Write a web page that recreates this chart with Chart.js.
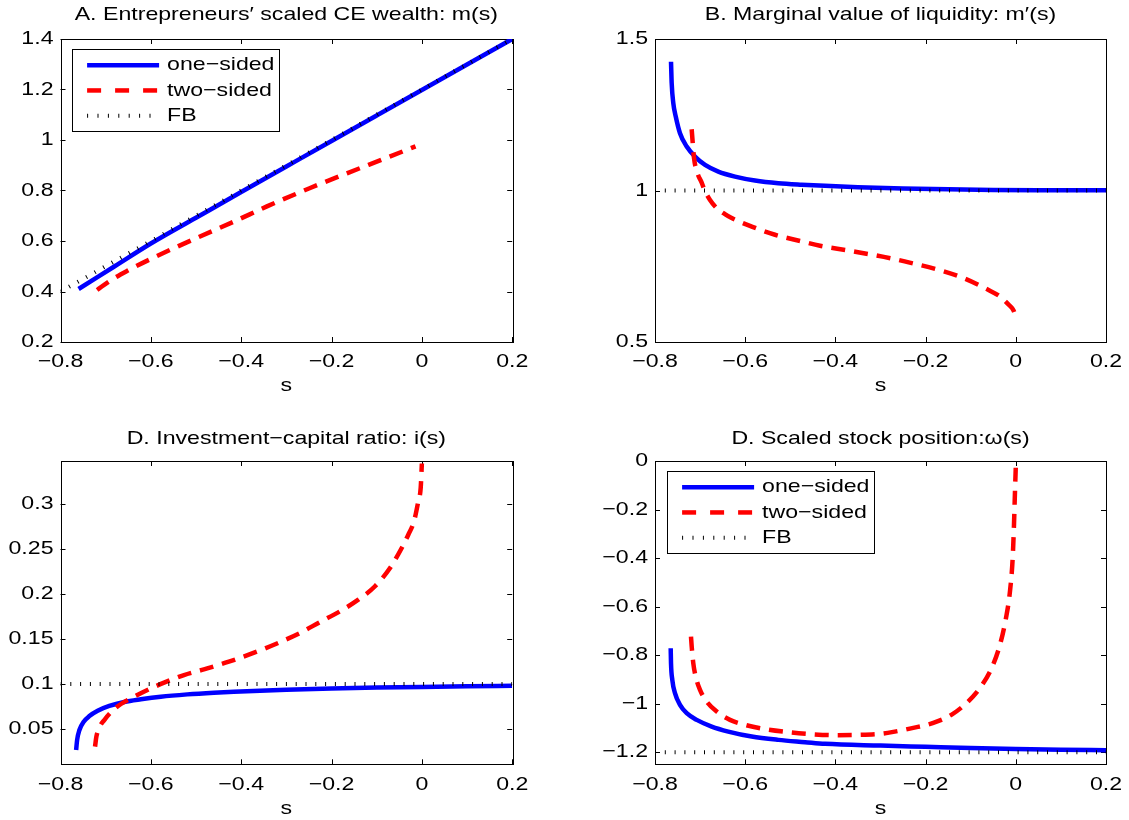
<!DOCTYPE html>
<html>
<head>
<meta charset="utf-8">
<script src="https://cdn.jsdelivr.net/npm/chart.js@4.4.1/dist/chart.umd.min.js"></script>
<style>
  body { margin: 0; background: #fff; }
  #wrap { position: relative; width: 1129px; height: 820px; overflow: hidden; }
  .panel { position: absolute; }
</style>
</head>
<body>
<div id="wrap">
  <canvas id="chartA" class="panel" width="560" height="410" style="left:0;top:0"></canvas>
  <canvas id="chartB" class="panel" width="569" height="410" style="left:560px;top:0"></canvas>
  <canvas id="chartC" class="panel" width="560" height="410" style="left:0;top:410px"></canvas>
  <canvas id="chartD" class="panel" width="569" height="410" style="left:560px;top:410px"></canvas>
</div>
<script>
Chart.defaults.font.family = "'Liberation Sans', Arial, sans-serif";
Chart.defaults.font.size = 18.5;
Chart.defaults.color = '#000';

// tick values
var xTicks = [-0.8, -0.6, -0.4, -0.2, 0, 0.2];
var aTicks = [0.2, 0.4, 0.6, 0.8, 1, 1.2, 1.4];
var bTicks = [0.5, 1, 1.5];
var cTicks = [0.05, 0.1, 0.15, 0.2, 0.25, 0.3];
var dTicks = [-1.2, -1, -0.8, -0.6, -0.4, -0.2, 0];

var seriesNames = ['one\u2212sided', 'two\u2212sided', 'FB'];

// A. scaled CE wealth m(s)
var aOneS = [-0.76, -0.72, -0.68, -0.6, -0.5, -0.4, -0.3, -0.2, -0.1, 0, 0.1, 0.2];
var aOneY = [0.410, 0.455, 0.500, 0.590, 0.692, 0.794, 0.895, 0.996, 1.097, 1.198, 1.299, 1.4];
var aTwoS = [-0.719, -0.69, -0.653, -0.6, -0.5, -0.417, -0.343, -0.25, -0.166, -0.07, -0.014];
var aTwoY = [0.406, 0.443, 0.481, 0.529, 0.611, 0.676, 0.737, 0.808, 0.868, 0.935, 0.975];
var aFbS = [-0.8, 0.2];
var aFbY = [0.4, 1.4];

// B. marginal value of liquidity m'(s)
var bOneS = [-0.7645, -0.763, -0.7594, -0.754, -0.7446, -0.7297, -0.7113, -0.689, -0.6596, -0.6226, -0.5783, -0.5266, -0.4747, -0.423, -0.35, -0.25, -0.15, -0.05, 0.05, 0.2];
var bOneY = [1.425, 1.354, 1.288, 1.244, 1.189, 1.145, 1.112, 1.0845, 1.0625, 1.046, 1.033, 1.024, 1.019, 1.0153, 1.011, 1.007, 1.004, 1.002, 1.001, 1.0005];
var bTwoS = [-0.7187, -0.7165, -0.7135, -0.7065, -0.6965, -0.6897, -0.678, -0.6632, -0.645, -0.63, -0.5856, -0.534, -0.4747, -0.4341, -0.3672, -0.2465, -0.1258, -0.0615, -0.035, -0.015, -0.005, 0];
var bTwoY = [1.2023, 1.16, 1.107, 1.06, 1.026, 1.0, 0.969, 0.942, 0.922, 0.909, 0.881, 0.854, 0.832, 0.8175, 0.801, 0.766, 0.7165, 0.6725, 0.65, 0.622, 0.604, 0.583];
var bFbS = [-0.8, 0.2];
var bFbY = [1, 1];

// C. investment-capital ratio i(s)
var cOneS = [-0.7654, -0.7632, -0.7581, -0.7486, -0.736, -0.7177, -0.692, -0.6589, -0.622, -0.578, -0.5193, -0.4604, -0.4163, -0.3, -0.2, -0.1, 0, 0.1, 0.2];
var cOneY = [0.0267, 0.0378, 0.0489, 0.0581, 0.0644, 0.0703, 0.0756, 0.08, 0.083, 0.0859, 0.0885, 0.0904, 0.0915, 0.0937, 0.095, 0.096, 0.0968, 0.0975, 0.098];
var cTwoS = [-0.7235, -0.7206, -0.714, -0.703, -0.6869, -0.6662, -0.6368, -0.6075, -0.5707, -0.5266, -0.4825, -0.4273, -0.35, -0.2698, -0.2255, -0.1812, -0.1407, -0.1037, -0.0705, -0.0446, -0.03, -0.0174, -0.0079, -0.0026, 0];
var cTwoY = [0.0304, 0.0415, 0.0519, 0.06, 0.0693, 0.0778, 0.0859, 0.0933, 0.1015, 0.11, 0.1163, 0.1248, 0.139, 0.1567, 0.1689, 0.1808, 0.1937, 0.2086, 0.2289, 0.2511, 0.2659, 0.2808, 0.303, 0.3178, 0.345];
var cFbS = [-0.8, 0.2];
var cFbY = [0.1, 0.1];

// D. scaled stock position w(s)
var dOneS = [-0.7652, -0.7645, -0.7616, -0.7557, -0.7446, -0.7297, -0.7075, -0.6743, -0.6375, -0.5856, -0.5266, -0.4674, -0.4231, -0.3, -0.2, -0.1, 0, 0.1, 0.2];
var dOneY = [-0.7716, -0.8335, -0.9022, -0.957, -1.0051, -1.0394, -1.0669, -1.0945, -1.1151, -1.1357, -1.1493, -1.1588, -1.1658, -1.173, -1.178, -1.183, -1.187, -1.19, -1.192];
var dTwoS = [-0.7202, -0.7186, -0.7151, -0.7098, -0.7002, -0.6854, -0.6632, -0.6337, -0.6004, -0.5561, -0.5044, -0.4526, -0.4, -0.35, -0.3011, -0.2716, -0.2273, -0.1829, -0.1421, -0.1089, -0.0794, -0.0535, -0.035, -0.0217, -0.0129, -0.0069, -0.004, -0.0018, 0.0004];
var dTwoY = [-0.7237, -0.765, -0.8335, -0.8885, -0.9434, -0.9915, -1.0328, -1.0669, -1.0875, -1.1053, -1.1177, -1.1259, -1.13, -1.129, -1.1246, -1.1164, -1.0999, -1.0793, -1.045, -0.9969, -0.9351, -0.8527, -0.7566, -0.6468, -0.537, -0.3996, -0.262, -0.125, 0];
var dFbS = [-0.8, 0.2];
var dFbY = [-1.2, -1.2];

function pts(xs, ys) {
  return xs.map(function (x, i) { return { x: x, y: ys[i] }; });
}

function fmt(v) {
  return (v < 0 ? '\u2212' : '') + String(Math.abs(v));
}

// the reference lettering is a horizontally widened Helvetica
function stretchText(ctx, k) {
  var orig = ctx.fillText;
  ctx.fillText = function (text, x, y, maxWidth) {
    this.save();
    this.translate(x, y);
    this.scale(k, 1);
    if (maxWidth === undefined) orig.call(this, text, 0, 0);
    else orig.call(this, text, 0, 0, maxWidth / k);
    this.restore();
  };
}

// matlab style box, inward ticks and framed legend
var matlabAxes = {
  id: 'matlabAxes',
  beforeDatasetsDraw: function (chart) {
    var ctx = chart.ctx, a = chart.chartArea;
    var xs = chart.scales.x, ys = chart.scales.y;
    ctx.save();
    ctx.strokeStyle = '#000';
    ctx.lineWidth = 1;
    ctx.strokeRect(Math.round(a.left) + 0.5, Math.round(a.top) + 0.5,
      Math.round(a.right - a.left), Math.round(a.bottom - a.top));
    ctx.beginPath();
    xs.ticks.forEach(function (t) {
      var p = Math.round(xs.getPixelForValue(t.value)) + 0.5;
      ctx.moveTo(p, a.bottom); ctx.lineTo(p, a.bottom - 5);
      ctx.moveTo(p, a.top); ctx.lineTo(p, a.top + 5);
    });
    ys.ticks.forEach(function (t) {
      var p = Math.round(ys.getPixelForValue(t.value)) + 0.5;
      ctx.moveTo(a.left, p); ctx.lineTo(a.left + 5, p);
      ctx.moveTo(a.right, p); ctx.lineTo(a.right - 5, p);
    });
    ctx.stroke();
    ctx.restore();
  },
  afterDatasetsDraw: function (chart, args, opts) {
    if (!opts.legend) return;
    var ctx = chart.ctx, a = chart.chartArea;
    var bx = Math.round(a.left + 11.5) + 0.5, by = Math.round(a.top + 10) + 0.5;
    ctx.save();
    ctx.fillStyle = '#fff';
    ctx.fillRect(bx, by, 207, 82);
    ctx.strokeStyle = '#000';
    ctx.lineWidth = 1;
    ctx.strokeRect(bx, by, 207, 82);
    ctx.font = "18.5px 'Liberation Sans', Arial, sans-serif";
    ctx.textBaseline = 'middle';
    ctx.textAlign = 'left';
    chart.data.datasets.forEach(function (ds, i) {
      var y = by + 15.7 + i * 25.25;
      ctx.save();
      ctx.strokeStyle = ds.borderColor;
      ctx.lineWidth = ds.borderWidth;
      ctx.lineCap = 'butt';
      ctx.setLineDash(ds.legendDash || []);
      ctx.beginPath();
      ctx.moveTo(bx + 14.6, y);
      ctx.lineTo(bx + 86.6, y);
      ctx.stroke();
      ctx.restore();
      ctx.fillStyle = '#000';
      ctx.fillText(ds.label, bx + 94.6, y);
    });
    ctx.restore();
  }
};

function makePanel(id, p) {
  var datasets = [
    { label: seriesNames[0], data: pts(p.one[0], p.one[1]), borderColor: '#0000ff', borderWidth: 4.5, order: 3, legendDash: [] },
    { label: seriesNames[1], data: pts(p.two[0], p.two[1]), borderColor: '#ff0000', borderWidth: 4.5, borderDash: [14, 9], order: 2, legendDash: [14, 14] },
    { label: seriesNames[2], data: pts(p.fb[0], p.fb[1]), borderColor: '#000000', borderWidth: 4, borderDash: [1, 8.8], order: 1, legendDash: [1, 9.4] }
  ];
  datasets.forEach(function (d) {
    d.pointRadius = 0;
    d.cubicInterpolationMode = 'monotone';
    d.fill = false;
    d.borderCapStyle = 'butt';
  });
  var ctx = document.getElementById(id).getContext('2d');
  stretchText(ctx, 1.25);
  new Chart(ctx, {
    type: 'line',
    data: { datasets: datasets },
    options: {
      responsive: false,
      animation: false,
      devicePixelRatio: 1,
      layout: { padding: { left: 0, right: p.rightPad, top: 0, bottom: 0 } },
      plugins: {
        legend: { display: false },
        tooltip: { enabled: false },
        title: {
          display: true, text: p.title, fullSize: false, color: '#000',
          font: { size: 18.5, weight: 'normal' },
          padding: { top: p.titleTop, bottom: p.titleBottom }
        },
        matlabAxes: { legend: p.legend }
      },
      scales: {
        x: {
          type: 'linear', min: -0.8, max: 0.2, bounds: 'data',
          afterBuildTicks: function (s) { s.ticks = xTicks.map(function (v) { return { value: v }; }); },
          afterFit: function (s) { s.height = p.xAxisH; },
          grid: { display: false, drawTicks: false },
          border: { display: false },
          ticks: { padding: 9.3, maxRotation: 0, autoSkip: false, callback: fmt, color: '#000' },
          title: { display: true, text: 's', color: '#000', padding: { top: 0, bottom: p.sPad } }
        },
        y: {
          type: 'linear', min: p.yMin, max: p.yMax, bounds: 'data',
          afterBuildTicks: function (s) { s.ticks = p.yTicks.map(function (v) { return { value: v }; }); },
          afterFit: function (s) { s.width = p.yAxisW; },
          grid: { display: false, drawTicks: false },
          border: { display: false },
          ticks: { padding: 7, autoSkip: false, callback: fmt, color: '#000' }
        }
      }
    },
    plugins: [matlabAxes]
  });
}

makePanel('chartA', {
  title: 'A. Entrepreneurs\u2032 scaled CE wealth: m(s)',
  one: [aOneS, aOneY], two: [aTwoS, aTwoY], fb: [aFbS, aFbY],
  yMin: 0.2, yMax: 1.4, yTicks: aTicks, legend: true,
  yAxisW: 60.5, rightPad: 47.8, xAxisH: 68, titleTop: 3.9, titleBottom: 12.9, sPad: 12.9
});
makePanel('chartB', {
  title: 'B. Marginal value of liquidity: m\u2032(s)',
  one: [bOneS, bOneY], two: [bTwoS, bTwoY], fb: [bFbS, bFbY],
  yMin: 0.5, yMax: 1.5, yTicks: bTicks, legend: false,
  yAxisW: 95, rightPad: 23, xAxisH: 68, titleTop: 3.9, titleBottom: 12.9, sPad: 12.9
});
makePanel('chartC', {
  title: 'D. Investment\u2212capital ratio: i(s)',
  one: [cOneS, cOneY], two: [cTwoS, cTwoY], fb: [cFbS, cFbY],
  yMin: 0.0108, yMax: 0.3478, yTicks: cTicks, legend: false,
  yAxisW: 60.5, rightPad: 47.8, xAxisH: 55.7, titleTop: 18.2, titleBottom: 10.6, sPad: 0
});
makePanel('chartD', {
  title: 'D. Scaled stock position:\u03c9(s)',
  one: [dOneS, dOneY], two: [dTwoS, dTwoY], fb: [dFbS, dFbY],
  yMin: -1.25, yMax: 0, yTicks: dTicks, legend: true,
  yAxisW: 95, rightPad: 23, xAxisH: 55.7, titleTop: 18.2, titleBottom: 10.6, sPad: 0
});
</script>
</body>
</html>
